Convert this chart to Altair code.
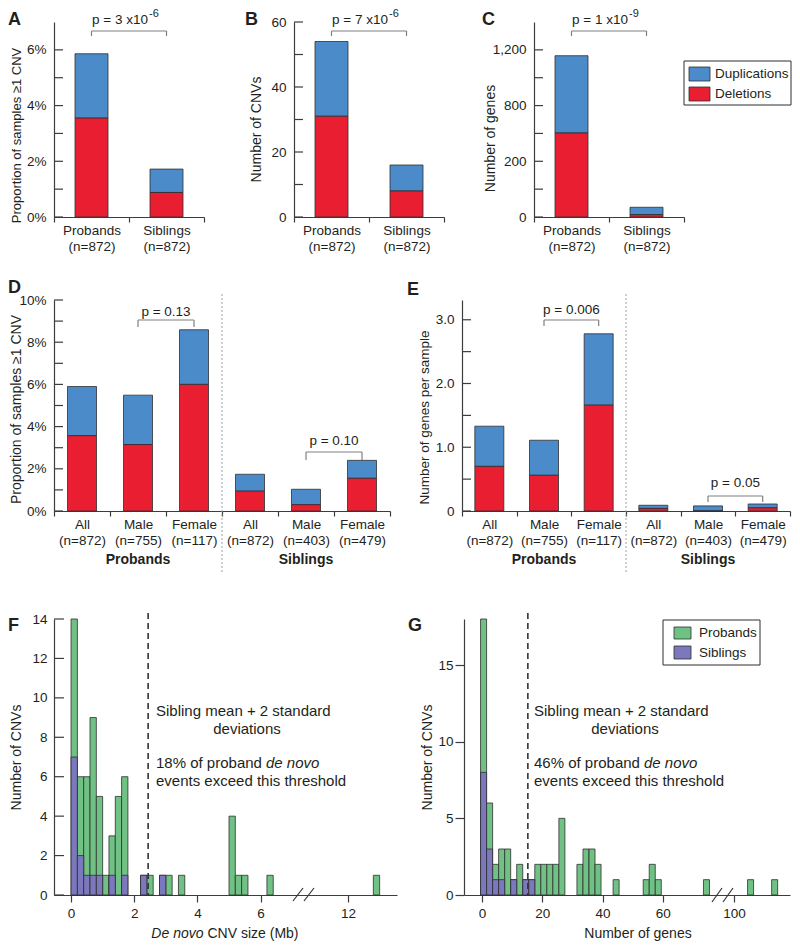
import altair as alt
import pandas as pd

FONT = "Liberation Sans"
TXT = "#231f20"
AXC = "#3c3c3c"
BLUE = "#4b8bca"
RED = "#e91e30"
GREEN = "#70c284"
PURPLE = "#7b78bd"
EDGE = "#2e2e2e"
BRK = "#808080"

# ---------------- data ----------------
top_labels = ["Probands", "Siblings"]
top_n = ["(n=872)", "(n=872)"]
a_deletions = [3.55, 0.88]
a_total = [5.86, 1.72]
b_deletions = [31, 8]
b_total = [54, 16]
c_deletions = [603, 17]
c_total = [1158, 70]

a_ticks = [0, 1, 2, 3, 4, 5, 6]
a_tick_labels = ["0%", "", "2%", "", "4%", "", "6%"]
b_ticks = [0, 10, 20, 30, 40, 50, 60]
b_tick_labels = ["0", "", "20", "", "40", "", "60"]
c_ticks = [0, 200, 400, 600, 800, 1000, 1200]
c_tick_labels = ["0", "", "200", "", "800", "", "1,200"]

sex_groups = ["Probands", "Probands", "Probands", "Siblings", "Siblings", "Siblings"]
sex_labels = ["All", "Male", "Female", "All", "Male", "Female"]
sex_n = ["(n=872)", "(n=755)", "(n=117)", "(n=872)", "(n=403)", "(n=479)"]
d_deletions = [3.57, 3.15, 6.00, 0.94, 0.30, 1.55]
d_total = [5.90, 5.49, 8.59, 1.74, 1.03, 2.40]
e_deletions = [0.70, 0.56, 1.66, 0.04, 0.00, 0.05]
e_total = [1.33, 1.11, 2.78, 0.09, 0.08, 0.11]
d_ticks = [0, 1, 2, 3, 4, 5, 6, 7, 8, 9, 10]
d_tick_labels = ["0%", "", "2%", "", "4%", "", "6%", "", "8%", "", "10%"]
e_ticks = [0, 0.5, 1, 1.5, 2, 2.5, 3]
e_tick_labels = ["0", "", "1.0", "", "2.0", "", "3.0"]

f_bin_start = [0.0, 0.2, 0.4, 0.6, 0.8, 1.0, 1.2, 1.4, 1.6, 2.2, 2.4, 2.8, 3.0, 3.4, 5.0, 5.2, 5.4, 6.2, 12.8]
f_probands = [7, 4, 5, 8, 4, 1, 2, 5, 5, 0, 1, 0, 1, 1, 4, 1, 1, 1, 1]
f_siblings = [7, 2, 1, 1, 1, 0, 1, 0, 1, 1, 0, 1, 0, 0, 0, 0, 0, 0, 0]
f_bin_width = 0.2
f_threshold = 2.44
f_x_ticks = [0, 2, 4, 6, 12]
f_y_ticks = [0, 2, 4, 6, 8, 10, 12, 14]

g_bin_start = [-0.5, 1.5, 3.5, 5.5, 7.5, 9.5, 11.5, 13.5, 15.5, 17.5, 19.5, 21.5, 23.5, 25.5,
               31.5, 33.5, 35.5, 37.5, 43.5, 53.5, 55.5, 57.5, 73.5, 104.5, 112.5]
g_probands = [10, 3, 1, 2, 3, 0, 2, 0, 0, 2, 2, 2, 2, 5, 2, 3, 3, 2, 1, 1, 2, 1, 1, 1, 1]
g_siblings = [8, 3, 1, 1, 0, 1, 0, 1, 1, 0, 0, 0, 0, 0, 0, 0, 0, 0, 0, 0, 0, 0, 0, 0, 0]
g_bin_width = 2
g_threshold = 15.2
g_x_ticks = [0, 20, 40, 60, 100]
g_y_ticks = [0, 5, 10, 15]

# ---------------- layout ----------------
W_TOP, H_TOP, SP_TOP = 150, 195, 90
W_D, W_E, H_MID, SP_MID = 336, 328, 211, 72
W_F, W_G, H_BOT, SP_BOT, OFF = 343, 326, 276, 67, 41
ROW_SP = 278


def label_expr(values, labels):
    expr = "''"
    for v, l in zip(values, labels):
        expr = f"datum.value == {v} ? '{l}' : ({expr})"
    return expr


def one():
    return pd.DataFrame({"k": [0]})


def note(text, x, y, size=13.5, align="center", baseline="middle", weight="normal",
         style="normal", color=TXT):
    return alt.Chart(pd.DataFrame({"t": [text]})).mark_text(
        align=align, baseline=baseline, fontSize=size, font=FONT, fontWeight=weight,
        fontStyle=style, color=color
    ).encode(text="t:N", x=alt.value(x), y=alt.value(y))


def seg(x1, y1, x2, y2, color=BRK, width=1.2, dash=None):
    kw = dict(color=color, strokeWidth=width)
    if dash:
        kw["strokeDash"] = dash
    return alt.Chart(one()).mark_rule(**kw).encode(
        x=alt.value(x1), y=alt.value(y1), x2=alt.value(x2), y2=alt.value(y2))


def box(x1, y1, x2, y2, fill, stroke=EDGE, width=0.8):
    return alt.Chart(one()).mark_rect(fill=fill, stroke=stroke, strokeWidth=width).encode(
        x=alt.value(x1), y=alt.value(y1), x2=alt.value(x2), y2=alt.value(y2))


def bracket(xa, xb, ytop, ya, yb):
    return [seg(xa, ytop, xb, ytop), seg(xa, ytop, xa, ya), seg(xb, ytop, xb, yb)]


def pval_sup(main, sup, xc, y, split):
    return [note(main, xc + split, y, size=13.5, align="right"),
            note(sup, xc + split + 1, y - 6, size=11, align="left")]


def bar_layers(keys, dels, tots, ymax, ticks, tick_labels, ytitle, tx, ty, bar_w, tfs=14):
    df = pd.DataFrame({"k": keys, "del": dels, "tot": tots})
    ys = alt.Scale(domain=[0, ymax], nice=False, zero=True)
    xaxis = alt.Axis(title=None, labelAngle=0, tickBand="extent",
                     labelExpr="slice(split(datum.label, '|'), 1)", labelLineHeight=16,
                     labelPadding=1, tickSize=5, labelOverlap=False, labelBound=False,
                     labelFontSize=13.5)
    xenc = alt.X("k:N", sort=keys, scale=alt.Scale(paddingInner=0, paddingOuter=0), axis=xaxis)
    yaxis = alt.Axis(values=ticks, labelExpr=label_expr(ticks, tick_labels), ticks=False,
                     tickSize=0, labelPadding=8, title=ytitle, titleX=tx, titleY=ty,
                     labelFlush=False, grid=False, titleFontSize=tfs)
    dup = alt.Chart(df).mark_bar(size=bar_w, fill=BLUE, stroke=EDGE, strokeWidth=0.8).encode(
        x=xenc, y=alt.Y("tot:Q", scale=ys, axis=yaxis), y2="del:Q")
    dele = alt.Chart(df).mark_bar(size=bar_w, fill=RED, stroke=EDGE, strokeWidth=0.8).encode(
        x=xenc, y=alt.Y("del:Q", scale=ys, axis=yaxis))
    tk = alt.Chart(pd.DataFrame({"t": ticks})).mark_rule(color=AXC, strokeWidth=1.2).encode(
        y=alt.Y("t:Q", scale=ys, axis=yaxis), x=alt.value(0), x2=alt.value(9))
    return [dup, dele, tk]


# ---------------- row 1 ----------------
top_keys = [f"{l}|{l}|{n}" for l, n in zip(top_labels, top_n)]
st = W_TOP / 2

A = alt.layer(
    *bar_layers(top_keys, a_deletions, a_total, 7, a_ticks, a_tick_labels,
                "Proportion of samples \u22651 CNV", -31, 113, 33, tfs=13),
    *bracket(st / 2, st * 1.5, 9, 14, 14),
    *pval_sup("p = 3 x10", "-6", st, -2, 19),
    note("A", -46, -11, size=18, align="left", baseline="top", weight="bold"),
).properties(width=W_TOP, height=H_TOP)

B = alt.layer(
    *bar_layers(top_keys, b_deletions, b_total, 60, b_ticks, b_tick_labels,
                "Number of CNVs", -31, 107, 33),
    *bracket(st / 2, st * 1.5, 9, 14, 14),
    *pval_sup("p = 7 x10", "-6", st, -2, 19),
    note("B", -49, -11, size=18, align="left", baseline="top", weight="bold"),
).properties(width=W_TOP, height=H_TOP)

C = alt.layer(
    *bar_layers(top_keys, c_deletions, c_total, 1400, c_ticks, c_tick_labels,
                "Number of genes", -37, 116, 33),
    *bracket(st / 2, st * 1.5, 9, 14, 14),
    *pval_sup("p = 1 x10", "-9", st, -2, 19),
    note("C", -52, -11, size=18, align="left", baseline="top", weight="bold"),
    box(150, 39, 257, 83, "white", stroke=EDGE, width=1),
    box(155, 45, 176, 59, BLUE),
    box(155, 65, 176, 79, RED),
    note("Duplications", 181, 52, size=13.5, align="left"),
    note("Deletions", 181, 72, size=13.5, align="left"),
).properties(width=W_TOP, height=H_TOP)

top = alt.hconcat(A, B, C, spacing=SP_TOP, bounds="flush")

# ---------------- row 2 ----------------
sex_keys = [f"{g}|{l}|{n}" for g, l, n in zip(sex_groups, sex_labels, sex_n)]
sd = W_D / 6
se = W_E / 6

D = alt.layer(
    *bar_layers(sex_keys, d_deletions, d_total, 10, d_ticks, d_tick_labels,
                "Proportion of samples \u22651 CNV", -31, 109, 29),
    seg(3 * sd, -6, 3 * sd, H_MID + 62, color="#a0a0a0", width=1, dash=[2, 2]),
    *bracket(1.5 * sd, 2.5 * sd, 20, 27, 27),
    note("p = 0.13", 2 * sd, 12),
    *bracket(4.5 * sd, 5.5 * sd, 152, 160, 160),
    note("p  = 0.10", 5 * sd, 141),
    note("Probands", 1.5 * sd, H_MID + 49, size=14, weight="bold"),
    note("Siblings", 4.5 * sd, H_MID + 49, size=14, weight="bold"),
    note("D", -46, -21, size=18, align="left", baseline="top", weight="bold"),
).properties(width=W_D, height=H_MID)

E = alt.layer(
    *bar_layers(sex_keys, e_deletions, e_total, 3.31, e_ticks, e_tick_labels,
                "Number of genes per sample", -31, 117, 29, tfs=13.5),
    seg(3 * se, -6, 3 * se, H_MID + 62, color="#a0a0a0", width=1, dash=[2, 2]),
    *bracket(1.5 * se, 2.5 * se, 20, 26, 26),
    note("p = 0.006", 2 * se, 10),
    *bracket(4.5 * se, 5.5 * se, 196, 202, 202),
    note("p = 0.05", 5 * se, 183),
    note("Probands", 1.5 * se, H_MID + 49, size=14, weight="bold"),
    note("Siblings", 4.5 * se, H_MID + 49, size=14, weight="bold"),
    note("E", -55, -19, size=18, align="left", baseline="top", weight="bold"),
).properties(width=W_E, height=H_MID)

mid = alt.hconcat(D, E, spacing=SP_MID, bounds="flush")


# ---------------- row 3 ----------------
def hist_layers(starts, prob, sib, bw, xdom, xrng, xticks, ymax, yticks, inward, tx, thr):
    df = pd.DataFrame({"s": starts, "p": prob, "sb": sib})
    df["e"] = df["s"] + bw
    df["tot"] = df["p"] + df["sb"]
    df["z"] = 0
    xs = alt.Scale(domain=xdom, range=xrng, nice=False, zero=False)
    ys = alt.Scale(domain=[0, ymax], range=[OFF + H_BOT, OFF], nice=False, zero=True)
    xaxis = alt.Axis(values=xticks, title=None, tickSize=7, labelPadding=4, labelFlush=False,
                     grid=False, labelFontSize=13.5)
    if inward:
        yaxis = alt.Axis(values=yticks, ticks=False, tickSize=0, labelPadding=7,
                         title="Number of CNVs", titleX=tx, titleY=OFF + H_BOT / 2,
                         labelFlush=False, grid=False)
    else:
        yaxis = alt.Axis(values=yticks, tickSize=9, labelPadding=2,
                         title="Number of CNVs", titleX=tx, titleY=OFF + H_BOT / 2,
                         labelFlush=False, grid=False)
    green = alt.Chart(df).mark_bar(fill=GREEN, stroke=EDGE, strokeWidth=0.8).encode(
        x=alt.X("s:Q", scale=xs, axis=xaxis), x2="e:Q",
        y=alt.Y("tot:Q", scale=ys, axis=yaxis), y2="z:Q")
    purple = alt.Chart(df).transform_filter("datum.sb > 0").mark_bar(
        fill=PURPLE, stroke=EDGE, strokeWidth=0.8).encode(
        x=alt.X("s:Q", scale=xs, axis=xaxis), x2="e:Q",
        y=alt.Y("sb:Q", scale=ys, axis=yaxis), y2="z:Q")
    layers = [green, purple]
    if inward:
        layers.append(alt.Chart(pd.DataFrame({"t": yticks})).mark_rule(
            color=AXC, strokeWidth=1.2).encode(
            y=alt.Y("t:Q", scale=ys, axis=yaxis), x=alt.value(0), x2=alt.value(10)))
    layers.append(alt.Chart(pd.DataFrame({"v": [thr]})).mark_rule(
        color="#333333", strokeWidth=1.6, strokeDash=[6, 4]).encode(
        x=alt.X("v:Q", scale=xs, axis=xaxis), y=alt.value(OFF - 6), y2=alt.value(OFF + H_BOT)))
    return layers


def annot(x0, xc_dev, pct):
    return [
        note("Sibling mean + 2 standard", x0, OFF + 92, size=15, align="left"),
        note("deviations", xc_dev, OFF + 110, size=15),
        note(f"{pct} of proband", x0, OFF + 144, size=15, align="left"),
        note("de novo", x0 + 110, OFF + 144, size=15, align="left", style="italic"),
        note("events exceed this threshold", x0, OFF + 162, size=15, align="left"),
    ]


F = alt.layer(
    *hist_layers(f_bin_start, f_probands, f_siblings, f_bin_width,
                 [-0.54, 7.2, 11.3, 13.55], [0, 244.5, 272, W_F], f_x_ticks,
                 14, f_y_ticks, True, -31, f_threshold),
    *annot(102, 193, "18%"),
    seg(239, OFF + H_BOT + 6, 249, OFF + H_BOT - 7, color="#333333", width=1.2),
    seg(250, OFF + H_BOT + 6, 260, OFF + H_BOT - 7, color="#333333", width=1.2),
    note("De novo", 149.5, OFF + H_BOT + 39, size=14, align="right", style="italic"),
    note("CNV size (Mb)", 153.5, OFF + H_BOT + 39, size=14, align="left"),
    note("F", -46, OFF - 2, size=18, align="left", baseline="top", weight="bold"),
).properties(width=W_F, height=H_BOT + OFF)

G = alt.layer(
    *hist_layers(g_bin_start, g_probands, g_siblings, g_bin_width,
                 [-6, 77, 97, 118.6], [0, 250, 261, W_G], g_x_ticks,
                 18, g_y_ticks, False, -30, g_threshold),
    *annot(70, 161, "46%"),
    seg(248, OFF + H_BOT + 7, 258, OFF + H_BOT - 7, color="#333333", width=1.2),
    seg(259, OFF + H_BOT + 7, 269, OFF + H_BOT - 7, color="#333333", width=1.2),
    note("Number of genes", 174, OFF + H_BOT + 39, size=14),
    box(199, OFF + 1, 296, OFF + 46, "white", stroke=EDGE, width=1),
    box(210, OFF + 8, 227, OFF + 20, GREEN),
    box(210, OFF + 27, 227, OFF + 40, PURPLE),
    note("Probands", 235, OFF + 14, size=13.5, align="left"),
    note("Siblings", 235, OFF + 34, size=13.5, align="left"),
    note("G", -56, OFF - 2, size=18, align="left", baseline="top", weight="bold"),
).properties(width=W_G, height=H_BOT + OFF)

bot = alt.hconcat(F, G, spacing=SP_BOT, bounds="flush")

chart = alt.vconcat(top, mid, bot, spacing=ROW_SP, bounds="flush").properties(
    padding={"left": 0, "top": 0, "right": 0, "bottom": 0}
).configure(font=FONT).configure_view(stroke=None).configure_axis(
    labelFont=FONT, titleFont=FONT, labelColor=TXT, titleColor=TXT, domainColor=AXC,
    tickColor=AXC, domainWidth=1.2, tickWidth=1.2, labelFontSize=13.5, titleFontSize=14,
    titleFontWeight="normal", grid=False
)

chart.save("out.html", embed_options={"renderer": "svg", "actions": False})
